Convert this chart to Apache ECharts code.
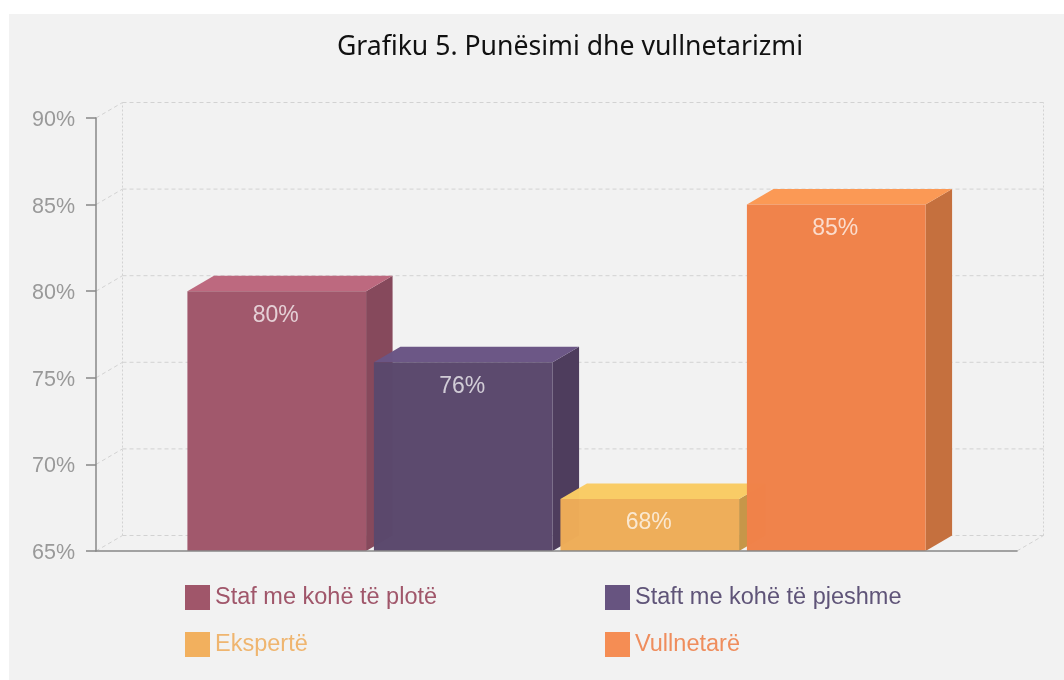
<!DOCTYPE html>
<html>
<head>
<meta charset="utf-8">
<title>Grafiku 5</title>
<script src="https://cdn.jsdelivr.net/npm/echarts@6/dist/echarts.min.js"></script>
<style>
    html, body { margin: 0; padding: 0; background: #fff; }
    #main { width: 1064px; height: 680px; }
</style>
</head>
<body>
<div id="main"></div>
<script>
var titleText = 'Grafiku 5. Punësimi dhe vullnetarizmi';
var categories = ['Punësimi'];
var seriesNames = ['Staf me kohë të plotë', 'Staft me kohë të pjeshme', 'Ekspertë', 'Vullnetarë'];
var seriesValues = [80, 75.9, 68, 85];
var yTicks = [65, 70, 75, 80, 85, 90];

// colours of each box: front, top, side
var frontColors = ['#a0566a', '#5a486c', '#eead58', '#f08249'];
var topColors = ['#bc677d', '#6a5585', '#f9cb64', '#fb9853'];
var sideColors = ['#85475a', '#4c3b5b', '#c59547', '#c46e3c'];
var legendColors = ['#a0566a', '#675480', '#f2b05e', '#f58d54'];
var legendTextColors = ['#a0566a', '#5f5478', '#efb56f', '#ef8d5d'];

// depth of the fake 3d, in pixels
var depthX = 26.5;
var depthY = -15.5;

var myChart = echarts.init(document.getElementById('main'));

function renderBox(index) {
    return function (params, api) {
        var center = api.coord([api.value(0), 65]);
        var top = api.coord([api.value(0), api.value(1)]);
        var band = api.size([1, 0])[0];
        var w = band * 0.194;
        var step = band * 0.2025;
        var x0 = center[0] - (step * 3 + w) / 2 + step * index;
        var x1 = x0 + w;
        var y0 = center[1];
        var y1 = top[1];
        var faces = [
            { pts: [[x1, y0], [x1 + depthX, y0 + depthY], [x1 + depthX, y1 + depthY], [x1, y1]], fill: sideColors[index] },
            { pts: [[x0, y1], [x0 + depthX, y1 + depthY], [x1 + depthX, y1 + depthY], [x1, y1]], fill: topColors[index] },
            { pts: [[x0, y0], [x0, y1], [x1, y1], [x1, y0]], fill: frontColors[index] }
        ];
        var children = faces.map(function (f) {
            return { type: 'polygon', shape: { points: f.pts }, style: { fill: f.fill, opacity: 0.988 } };
        });
        children.push({
            type: 'text',
            z2: 10,
            style: {
                text: Math.round(api.value(1)) + '%',
                x: (x0 + x1) / 2 - 1,
                y: y1 + 24,
                align: 'center',
                verticalAlign: 'middle',
                fill: 'rgba(255,255,255,0.72)',
                font: '23px "Liberation Sans"'
            }
        });
        return { type: 'group', children: children };
    };
}

// back wall and floor lines of the box
function renderWall(params, api) {
    var value = api.value(0);
    var left = api.coord([0, value]);
    var band = api.size([1, 0])[0];
    var right = left[0] + band / 2;
    var x0 = left[0] - band / 2;
    var y = left[1];
    var lineStyle = { stroke: '#d2d2d2', lineWidth: 1, lineDash: [4, 3], fill: null };
    var dotStyle = { stroke: '#d2d2d2', lineWidth: 1, lineDash: [2, 2], fill: null };
    var children = [
        { type: 'line', shape: { x1: x0 + depthX, y1: y + depthY, x2: right + depthX, y2: y + depthY }, style: lineStyle },
        { type: 'line', shape: { x1: x0, y1: y, x2: x0 + depthX, y2: y + depthY }, style: lineStyle }
    ];
    if (value === yTicks[0]) {
        var topY = api.coord([0, yTicks[yTicks.length - 1]])[1];
        children.push({ type: 'line', shape: { x1: x0 + depthX, y1: y + depthY, x2: x0 + depthX, y2: topY + depthY }, style: dotStyle });
        children.push({ type: 'line', shape: { x1: right + depthX, y1: y + depthY, x2: right + depthX, y2: topY + depthY }, style: dotStyle });
        children.push({ type: 'line', shape: { x1: right, y1: y, x2: right + depthX, y2: y + depthY }, style: lineStyle });
    }
    return { type: 'group', children: children };
}

var series = [{
    type: 'custom',
    name: 'wall',
    silent: true,
    z: 1,
    renderItem: renderWall,
    encode: { y: 0 },
    data: yTicks.map(function (t) { return [t]; })
}];
seriesNames.forEach(function (name, i) {
    series.push({
        type: 'custom',
        name: name,
        z: 2,
        itemStyle: { color: legendColors[i] },
        renderItem: renderBox(i),
        encode: { x: 0, y: 1 },
        data: [[0, seriesValues[i]]]
    });
});

// one legend per entry to get the two fixed columns
var legendLeft = [185, 605, 185, 605];
var legendTop = [585, 585, 632, 632];
var legends = seriesNames.map(function (name, i) {
    return {
        data: [name],
        left: legendLeft[i],
        top: legendTop[i],
        padding: 0,
        itemWidth: 25,
        itemHeight: 25,
        itemGap: 0,
        selectedMode: false,
        icon: 'rect',
        textStyle: {
            color: legendTextColors[i],
            fontFamily: 'Liberation Sans',
            fontSize: 23.5,
            padding: [3, 0, 0, 0]
        }
    };
});

option = {
    animation: false,
    backgroundColor: '#fff',
    textStyle: { fontFamily: 'Liberation Sans' },
    graphic: [{
        type: 'rect',
        z: -10,
        silent: true,
        shape: { x: 9, y: 14, width: 1055, height: 666 },
        style: { fill: '#f2f2f2' }
    }],
    title: {
        text: titleText,
        left: 570,
        textAlign: 'center',
        top: 34,
        padding: 0,
        textStyle: { fontFamily: 'Noto Sans', fontSize: 26.6, fontWeight: 'normal', color: '#111' }
    },
    legend: legends,
    grid: { left: 96, right: 47, top: 118, bottom: 129 },
    xAxis: {
        type: 'category',
        data: categories,
        z: 5,
        axisLine: { lineStyle: { color: '#888', width: 1.5 } },
        axisTick: { show: false },
        axisLabel: { show: false }
    },
    yAxis: {
        type: 'value',
        min: 65,
        max: 90,
        interval: 5,
        z: 5,
        splitLine: { show: false },
        axisLine: { show: true, lineStyle: { color: '#888', width: 1.5 } },
        axisTick: { show: true, length: 10, lineStyle: { color: '#888', width: 1.5 } },
        axisLabel: {
            color: '#999',
            fontSize: 21.5,
            margin: 21,
            verticalAlign: 'top',
            lineHeight: 4,
            fontFamily: 'Liberation Sans',
            formatter: '{value}%'
        }
    },
    series: series
};

myChart.setOption(option);
</script>
</body>
</html>
